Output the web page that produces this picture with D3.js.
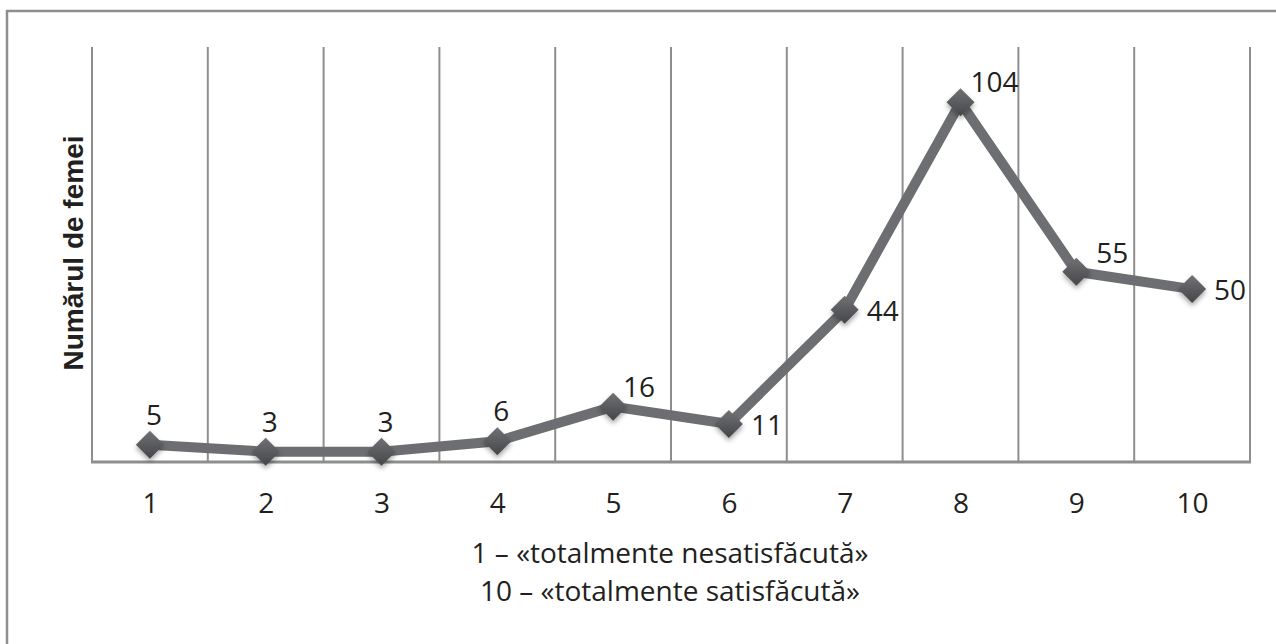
<!DOCTYPE html>
<html><head><meta charset="utf-8">
<script src="https://cdn.jsdelivr.net/npm/d3@7/dist/d3.min.js"></script>
<style>body{margin:0;background:#fff}svg{display:block}</style>
</head><body>
<svg id="c" width="1276" height="644"></svg>
<script>
const categories = ["1","2","3","4","5","6","7","8","9","10"];
const values = [5,3,3,6,16,11,44,104,55,50];
const labelPlacement = ["top","top","top","top","topRight","right","right","topRight","upperRight","right"];
const yAxisTitle = "Numărul de femei";
const xAxisTitleLines = ["1 – «totalmente nesatisfăcută»","10 – «totalmente satisfăcută»"];

(function(){
const svg = d3.select("#c");
const defs = svg.append("defs");
const grad = defs.append("linearGradient").attr("id","mg").attr("x1","0").attr("y1","0").attr("x2","0").attr("y2","1");
grad.append("stop").attr("offset","0").attr("stop-color","#707174");
grad.append("stop").attr("offset","1").attr("stop-color","#454649");
const f = defs.append("filter").attr("id","sh").attr("x","-50%").attr("y","-50%").attr("width","200%").attr("height","200%");
f.append("feDropShadow").attr("dx",0).attr("dy",3).attr("stdDeviation",2.5).attr("flood-color","#000").attr("flood-opacity",0.35);

const font = "'Open Sans', sans-serif";
const fs = "28px";
const txt = "#231f20";

// outer border
svg.append("rect").attr("x",7).attr("y",11).attr("width",1300).attr("height",700)
  .attr("fill","none").attr("stroke","#8e8e8e").attr("stroke-width",2.5);

const pLeft=92, pRight=1250, pTop=47, pBottom=462;
const x = d3.scalePoint().domain(categories).range([pLeft,pRight]).padding(0.5);
const y = d3.scaleLinear().domain([0,120]).range([pBottom,pTop]);
const step = x.step();

// vertical gridlines at category boundaries
const bounds = d3.range(categories.length+1).map(i => pLeft + i*step);
svg.append("g").selectAll("line").data(bounds).join("line")
  .attr("x1",d=>d).attr("x2",d=>d).attr("y1",pTop).attr("y2",pBottom)
  .attr("stroke","#8e8e8e").attr("stroke-width",2);

// baseline
svg.append("line").attr("x1",pLeft-1).attr("x2",pRight+1).attr("y1",y(0)).attr("y2",y(0))
  .attr("stroke","#8e8e8e").attr("stroke-width",3);

// x axis labels
const xAxis = d3.axisBottom(x).tickSize(0).tickPadding(0);
const gx = svg.append("g").attr("transform",`translate(0,${y(0)})`).call(xAxis);
gx.select(".domain").remove();
gx.selectAll("text").attr("dy",null).attr("y",51)
  .style("font-family",font).style("font-size",fs).attr("fill",txt);

// line
const line = d3.line().x((d,i)=>x(categories[i])).y(d=>y(d));
svg.append("path").datum(values).attr("d",line).attr("fill","none")
  .attr("stroke","#6d6e71").attr("stroke-width",10).attr("stroke-linejoin","miter");

// markers
const r = 14;
svg.append("g").selectAll("path").data(values).join("path")
  .attr("d",(d,i)=>{const cx=x(categories[i]),cy=y(d);return `M${cx},${cy-r}L${cx+r},${cy}L${cx},${cy+r}L${cx-r},${cy}Z`;})
  .attr("fill","url(#mg)").attr("filter","url(#sh)");

// data labels
const off = {top:[4,-20,"middle"], topRight:[10,-10,"start"], upperRight:[20,-9,"start"], right:[22,11,"start"]};
svg.append("g").selectAll("text").data(values).join("text")
  .attr("x",(d,i)=>x(categories[i])+off[labelPlacement[i]][0])
  .attr("y",(d,i)=>y(d)+off[labelPlacement[i]][1])
  .attr("text-anchor",(d,i)=>off[labelPlacement[i]][2])
  .style("font-family",font).style("font-size",fs).attr("fill",txt)
  .text(d=>d);

// y axis title
svg.append("text").attr("transform",`translate(83,253) rotate(-90)`)
  .attr("text-anchor","middle").style("font-family","'Liberation Sans', Arial, sans-serif")
  .style("font-weight","bold").style("font-size","28px").attr("fill",txt).text(yAxisTitle);

// x axis title
svg.append("g").selectAll("text").data(xAxisTitleLines).join("text")
  .attr("x",(pLeft+pRight)/2 - 1).attr("y",(d,i)=>563+i*38).attr("text-anchor","middle")
  .style("font-family",font).style("font-size",fs).attr("fill",txt)
  .text(d=>d);
})();
</script>
</body></html>
